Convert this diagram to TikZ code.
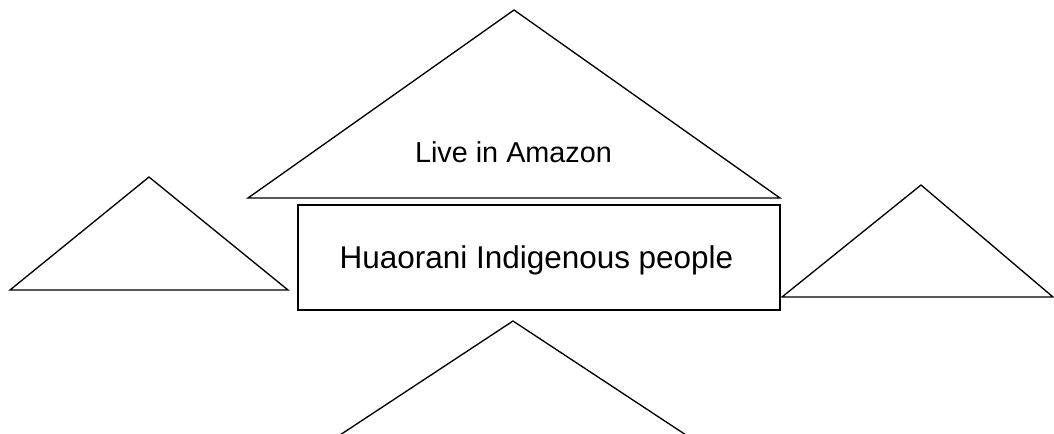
\documentclass[tikz,border=0pt]{standalone}
\usepackage{fontspec}
\setmainfont{Liberation Sans}
\begin{document}
\begin{tikzpicture}[x=0.75pt,y=-0.75pt,
  shape line/.style={draw=black,line width=1pt,line join=miter},
  box line/.style={draw=black,line width=1.3pt},
  label text/.style={inner sep=0pt,anchor=base,text=black}]
\useasboundingbox (0,0) rectangle (1054,433);
\clip (0,0) rectangle (1054,433);
% top triangle with its caption
\draw[shape line] (514,10) -- (780,198) -- (248,198) -- cycle;
\node[label text,font=\fontsize{21.6pt}{24pt}\selectfont] (amazon) at (513.5,162) {Live in Amazon};
% central box
\draw[box line] (298,205) rectangle (780,310);
\node[label text,font=\fontsize{23.6pt}{26pt}\selectfont] (huaorani) at (536.5,268) {Huaorani Indigenous people};
% left triangle
\draw[shape line] (149,177) -- (288,290) -- (10,290) -- cycle;
% right triangle
\draw[shape line] (921,185) -- (1053,297) -- (782,297) -- cycle;
% bottom triangle (runs past the lower edge)
\draw[shape line] (513,321) -- (683,433) -- (700,444) -- (326,444) -- (343,433) -- cycle;
\end{tikzpicture}
\end{document}
